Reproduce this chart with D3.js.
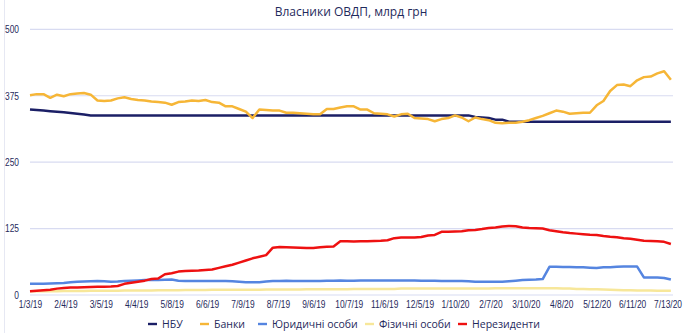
<!DOCTYPE html>
<html>
<head>
<meta charset="utf-8">
<script src="https://cdn.jsdelivr.net/npm/d3@7"></script>
<style>
  html, body { margin: 0; padding: 0; background: #fff; }
  svg { display: block; font-family: "Open Sans", "Noto Sans", sans-serif; }
</style>
</head>
<body>
<svg id="chart" width="690" height="333"></svg>
<script>
// Holders of domestic government bonds (ОВДП), UAH bn, sampled every 4 trading days
const sampleStep = 4;
const labelStep = 21;

const tickLabels = ["1/3/19","2/4/19","3/5/19","4/4/19","5/8/19","6/6/19","7/9/19","8/7/19","9/6/19",
  "10/7/19","11/6/19","12/5/19","1/10/20","2/7/20","3/10/20","4/8/20","5/12/20","6/11/20","7/13/20"];

const yTicks = [0, 125, 250, 375, 500];

const nbu = [
  349,348,347,346,345,344,342.5,341,339.5,338,
  338,338,338,338,338,338,338,338,338,338,
  338,338,338,338,338,338,338,338,338,338,
  338,338,338,338,338,338,338,338,338,338,
  338,338,338,338,338,338,338,338,338,338,
  338,338,338,338,338,338,338,338,338,338,
  338,338,338,338,338,338,335,334,333,330,
  330,326,326,326,326,326,326,326,326,326,
  326,326,326,326,326,326,326,326,326,326,
  326,326,326,326,326,326
];

const banks = [
  376,378,378,371,377,374,378,379,380,377,
  366,365,366,370,372,369,367,366,364,363,
  362,358,363,364,366,365,367,363,362,355,
  355,350,345,333,349,348,347,347,343,343,
  342,341,340,340,350,350,353,355,355,349,
  349,342,341,340,336,340,341,333,332,331,
  327,331,333,338,334,327,334,331,329,324,
  323,324,324,326,329,333,337,342,347,345,
  341,342,343,343,357,365,384,395,396,393,
  404,410,411,417,421,405
];

const legalEntities = [
  21,21,21,21.5,22,22.5,24,25,25.5,26,
  26.5,26,25,25.5,26.5,27,27.5,28,28,28,
  28.5,29,27,26.5,26.5,26.5,26.5,26.5,26.5,26.5,
  26,25,24,24,24,25.5,26.5,26.5,27,26.5,
  26.5,26.5,26.5,26.5,27,27,27.5,27,27,27.5,
  27.5,27.5,27.5,27.5,27.5,27.5,27.5,27.5,27,27,
  27,26.5,26.5,26.5,26.5,26,25,25,25,25,
  25,26,27,28,28.5,29,30,53,53,52.5,
  52.5,52,52,51.5,51,52,52,53,53.5,53.5,
  53.5,33,33,33,32,29
];

const individuals = [
  7,7,7,7,7,7.5,7.5,7.5,7.5,8,
  8,8,8,8,8.5,8.5,8.5,8.5,8.5,9,
  9,9,9,9.5,9.5,9.5,9.5,10,10,10,
  10,10,10,10,10,10.5,10.5,10.5,10.5,10.5,
  10.5,11,11,11,11,11,11,11,11.5,11.5,
  11.5,11.5,11.5,11.5,11.5,12,12,12,12,12,
  12,12,12,12,12,12,12,12,12,12.5,
  12.5,12.5,12.5,12.5,12.5,12.5,12.5,12.5,12.5,12,
  12,11.5,11.5,11,11,10.5,10,9.5,9,9,
  8.5,8.5,8.5,8,8,8
];

const nonResidents = [
  7,8,9,10,12,13,14,14,14.5,15,
  15.5,15.6,16,17,21,23,25,27,30,31,
  39,41,44,45,45.5,46,47,48,51,54,
  57,61,65,69,72,75,89,90.5,90,89.5,
  89,88.5,88.5,90,91,91.5,101,101,100.5,101,
  101,101.5,102,103,107,108,108,108,109,112,
  113,119,119,119.5,120,122,122.5,124,126,127,
  129,130,129.5,127,126,125.5,125,122,120,118,
  116.5,115.5,114.5,113.5,113,111,109.5,108.5,107,106,
  104,102,101.5,101,100,96
];

const seriesNames = ["НБУ", "Банки", "Юридичні особи", "Фізичні особи", "Нерезиденти"];
const seriesColors = ["#1b1f66", "#f6b637", "#5585e0", "#f7e79a", "#ee1111"];
const seriesData = [nbu, banks, legalEntities, individuals, nonResidents];

const svg = d3.select("#chart");
const textColor = "#1f2a5c";
const gridColor = "#d8dbf1";
const squeeze = "scale(0.8,1)"; // condensed look for the axis numbers

const lastTick = (tickLabels.length - 1) * labelStep;
const x = d3.scaleLinear().domain([0, lastTick]).range([30, 667.5]);
const y = d3.scaleLinear().domain([0, 500]).range([295, 29.3]);

// frame edge on the left
svg.append("line")
  .attr("x1", 4.5).attr("x2", 4.5).attr("y1", 0).attr("y2", 333)
  .attr("stroke", "#e6e8f3").attr("stroke-width", 1);

// title
svg.append("text")
  .attr("x", 351).attr("y", 16)
  .attr("text-anchor", "middle")
  .attr("font-size", 12)
  .attr("fill", textColor)
  .text("Власники ОВДП, млрд грн");

// horizontal gridlines
svg.append("g")
  .selectAll("line")
  .data(yTicks)
  .join("line")
  .attr("x1", 30).attr("x2", 673)
  .attr("y1", d => y(d)).attr("y2", d => y(d))
  .attr("stroke", gridColor).attr("stroke-width", 1.2);

// y axis labels, right-aligned
const yAxis = d3.axisLeft(y).tickValues(yTicks).tickSize(0).tickPadding(0);
const gy = svg.append("g").attr("transform", "translate(19,0)").call(yAxis);
gy.select(".domain").remove();
gy.selectAll("text")
  .attr("text-anchor", "end")
  .attr("x", 0)
  .attr("transform", squeeze)
  .attr("font-size", 10.5)
  .attr("fill", textColor);

// x axis labels
const xTickVals = tickLabels.map((_, i) => i * labelStep);
const xAxis = d3.axisBottom(x).tickValues(xTickVals).tickSize(0).tickPadding(0)
  .tickFormat((d, i) => tickLabels[i]);
const gx = svg.append("g").attr("transform", "translate(0,300.5)").call(xAxis);
gx.select(".domain").remove();
gx.selectAll("text")
  .attr("transform", squeeze)
  .attr("font-size", 10.5)
  .attr("fill", textColor);

// series lines
const line = d3.line()
  .x((d, i) => x(i * sampleStep))
  .y(d => y(d));

svg.append("g")
  .selectAll("path")
  .data(seriesData)
  .join("path")
  .attr("d", d => line(d))
  .attr("fill", "none")
  .attr("stroke", (d, i) => seriesColors[i])
  .attr("stroke-width", 2.5)
  .attr("stroke-linejoin", "round");

// legend
const legendX = [148, 200, 258, 365, 458];
const legend = svg.append("g").attr("transform", "translate(0,324)");
const items = legend.selectAll("g")
  .data(seriesNames)
  .join("g")
  .attr("transform", (d, i) => `translate(${legendX[i]},0)`);
items.append("line")
  .attr("x1", 0).attr("x2", 9).attr("y1", 0).attr("y2", 0)
  .attr("stroke", (d, i) => seriesColors[i]).attr("stroke-width", 2.4);
items.append("text")
  .attr("x", 14).attr("y", 0).attr("dy", "0.35em")
  .attr("font-size", 10.5)
  .attr("fill", textColor)
  .text(d => d);
</script>
</body>
</html>
